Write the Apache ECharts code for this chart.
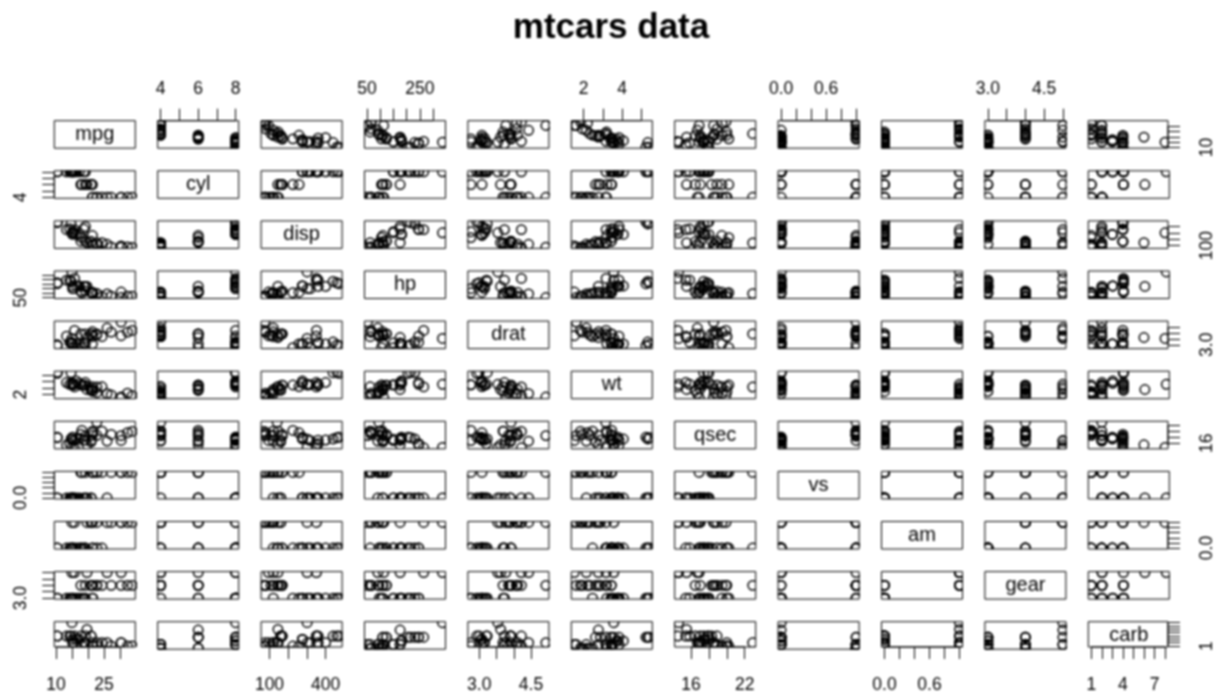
<!DOCTYPE html>
<html>
<head>
<meta charset="utf-8">
<title>mtcars data</title>
<script src="https://cdn.jsdelivr.net/npm/echarts@6/dist/echarts.min.js"></script>
<style>
  html, body { margin: 0; padding: 0; background: #fff; }
  #chart-container { width: 1216px; height: 694px; filter: blur(0.8px); }
</style>
</head>
<body>
<div id="chart-container"></div>
<script>
const mpg = [21,21,22.8,21.4,18.7,18.1,14.3,24.4,22.8,19.2,17.8,16.4,17.3,15.2,10.4,10.4,14.7,32.4,30.4,33.9,21.5,15.5,15.2,13.3,19.2,27.3,26,30.4,15.8,19.7,15,21.4]
const cyl = [6,6,4,6,8,6,8,4,4,6,6,8,8,8,8,8,8,4,4,4,4,8,8,8,8,4,4,4,8,6,8,4]
const disp = [160,160,108,258,360,225,360,146.7,140.8,167.6,167.6,275.8,275.8,275.8,472,460,440,78.7,75.7,71.1,120.1,318,304,350,400,79,120.3,95.1,351,145,301,121]
const hp = [110,110,93,110,175,105,245,62,95,123,123,180,180,180,205,215,230,66,52,65,97,150,150,245,175,66,91,113,264,175,335,109]
const drat = [3.9,3.9,3.85,3.08,3.15,2.76,3.21,3.69,3.92,3.92,3.92,3.07,3.07,3.07,2.93,3,3.23,4.08,4.93,4.22,3.7,2.76,3.15,3.73,3.08,4.08,4.43,3.77,4.22,3.62,3.54,4.11]
const wt = [2.62,2.875,2.32,3.215,3.44,3.46,3.57,3.19,3.15,3.44,3.44,4.07,3.73,3.78,5.25,5.424,5.345,2.2,1.615,1.835,2.465,3.52,3.435,3.84,3.845,1.935,2.14,1.513,3.17,2.77,3.57,2.78]
const qsec = [16.46,17.02,18.61,19.44,17.02,20.22,15.84,20,22.9,18.3,18.9,17.4,17.6,18,17.98,17.82,17.42,19.47,18.52,19.9,20.01,16.87,17.3,15.41,17.05,18.9,16.7,16.9,14.5,15.5,14.6,18.6]
const vs = [0,0,1,1,0,1,0,1,1,1,1,0,0,0,0,0,0,1,1,1,1,0,0,0,0,1,0,1,0,0,0,1]
const am = [1,1,1,0,0,0,0,0,0,0,0,0,0,0,0,0,0,1,1,1,0,0,0,0,0,1,1,1,1,1,1,1]
const gear = [4,4,4,3,3,3,3,4,4,4,4,3,3,3,3,3,3,4,4,4,3,3,3,3,3,4,5,5,5,5,5,4]
const carb = [4,4,1,1,2,1,4,2,2,4,4,3,3,3,4,4,4,1,2,1,1,2,2,4,2,1,2,2,4,6,8,2]

const names = ['mpg','cyl','disp','hp','drat','wt','qsec','vs','am','gear','carb']
const columns = [mpg,cyl,disp,hp,drat,wt,qsec,vs,am,gear,carb]

// ticks drawn on each axis, and the ones that keep a label
const ticks = [
  [10,15,20,25,30],
  [4,5,6,7,8],
  [100,200,300,400],
  [50,100,150,200,250,300],
  [3,3.5,4,4.5],
  [2,3,4,5],
  [16,18,20,22],
  [0,0.2,0.4,0.6,0.8,1],
  [0,0.2,0.4,0.6,0.8,1],
  [3,3.5,4,4.5,5],
  [1,2,3,4,5,6,7,8]
]
const xLabels = [['10','25'],['4','6','8'],['100','400'],['50','250'],['3.0','4.5'],['2','4'],['16','22'],['0.0','0.6'],['0.0','0.6'],['3.0','4.5'],['1','4','7']]
const yLabels = [['10'],['4'],['100'],['50'],['3.0'],['2'],['16'],['0.0'],['0.0'],['3.0'],['1']]

const LEFT = 54.3, TOP = 120.7, STEP_X = 103.4, STEP_Y = 50.1, W = 81, H = 27.5
const FONT = 'Liberation Sans'
const INK = '#000'
const MARGINS = {top: 23, bottom: 29, left: 24, right: 30}

// same padding as R: 4% each side
const range = col => {
  const lo = Math.min(...col), hi = Math.max(...col)
  const pad = (hi - lo) * 0.04
  return [lo - pad, hi + pad]
}
const ranges = columns.map(range)

const makeAxis = (v, gridIndex, position, labels) => {
  const axis = {
    type: 'value',
    gridIndex,
    min: ranges[v][0],
    max: ranges[v][1],
    splitLine: {show: false},
    axisLine: {show: false},
    axisTick: {show: false},
    axisLabel: {show: false}
  }
  if (position) {
    axis.position = position
    axis.axisTick = {
      show: true,
      length: 12,
      customValues: ticks[v],
      lineStyle: {color: INK, width: 1}
    }
    axis.axisLabel = {
      show: true,
      customValues: labels.map(Number),
      formatter: val => labels.find(l => Number(l) === val),
      margin: MARGINS[position],
      rotate: position === 'left' || position === 'right' ? 90 : 0,
      fontFamily: FONT,
      fontSize: 17.5,
      color: '#000'
    }
  }
  return axis
}

// hollow circles, cut off at the panel edge like R does
const renderPoint = (params, api) => {
  const p = api.coord([api.value(0), api.value(1)])
  return {
    type: 'circle',
    shape: {cx: p[0], cy: p[1], r: 4.7},
    style: {fill: 'none', stroke: '#000', lineWidth: 1.5}
  }
}

const grids = [], xAxes = [], yAxes = [], series = [], graphics = []

names.forEach((yName, row) => {
  names.forEach((xName, col) => {
    const gridIndex = grids.length
    const left = LEFT + col * STEP_X
    const top = TOP + row * STEP_Y
    grids.push({
      left, top, width: W, height: H,
      show: true,
      borderColor: INK,
      borderWidth: 1,
      backgroundColor: 'transparent'
    })

    let xPos = null, yPos = null
    if (row === 0 && col % 2 === 1) xPos = 'top'
    if (row === 10 && col % 2 === 0) xPos = 'bottom'
    if (col === 0 && row % 2 === 1) yPos = 'left'
    if (col === 10 && row % 2 === 0) yPos = 'right'
    xAxes.push(makeAxis(col, gridIndex, xPos, xLabels[col]))
    yAxes.push(makeAxis(row, gridIndex, yPos, yLabels[row]))

    if (row === col) {
      graphics.push({
        type: 'text',
        x: left + W / 2,
        y: top + H / 2,
        style: {
          text: xName,
          x: 0, y: 0,
          align: 'center',
          verticalAlign: 'middle',
          fontFamily: FONT,
          fontSize: 20,
          fill: '#000'
        }
      })
    } else {
      series.push({
        type: 'custom',
        coordinateSystem: 'cartesian2d',
        xAxisIndex: gridIndex,
        yAxisIndex: gridIndex,
        clip: true,
        silent: true,
        renderItem: renderPoint,
        encode: {x: 0, y: 1},
        data: columns[col].map((x, i) => [x, columns[row][i]])
      })
    }

    // the axis line only runs between first and last tick
    const axisLine = (data) => series.push({
      type: 'line',
      xAxisIndex: gridIndex,
      yAxisIndex: gridIndex,
      symbol: 'none',
      clip: false,
      silent: true,
      lineStyle: {color: '#000', width: 1},
      data
    })
    const xt = ticks[col], yt = ticks[row]
    if (xPos) {
      const y = xPos === 'top' ? ranges[row][1] : ranges[row][0]
      axisLine([[xt[0], y], [xt[xt.length - 1], y]])
    }
    if (yPos) {
      const x = yPos === 'left' ? ranges[col][0] : ranges[col][1]
      axisLine([[x, yt[0]], [x, yt[yt.length - 1]]])
    }
  })
})

const myChart = echarts.init(document.getElementById('chart-container'), null, {renderer: 'canvas'})

myChart.setOption({
  animation: false,
  backgroundColor: '#fff',
  title: {
    text: 'mtcars data',
    left: 606,
    top: 6,
    textAlign: 'center',
    textStyle: {fontFamily: FONT, fontWeight: 'bold', fontSize: 35, color: '#000'}
  },
  tooltip: {show: false},
  grid: grids,
  xAxis: xAxes,
  yAxis: yAxes,
  series,
  graphic: graphics
})

window.addEventListener('resize', myChart.resize)
</script>
</body>
</html>
